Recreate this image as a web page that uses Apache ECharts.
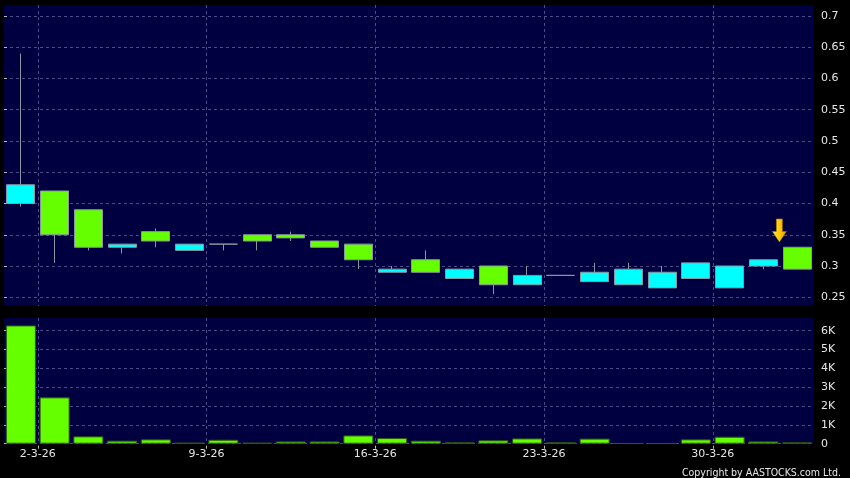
<!DOCTYPE html>
<html>
<head>
<meta charset="utf-8">
<script src="https://cdn.jsdelivr.net/npm/echarts@6/dist/echarts.min.js"></script>
<style>
html,body{margin:0;padding:0;background:#000;}
#c{width:850px;height:478px;}
</style>
</head>
<body>
<div id="c"></div>
<script>
const dates = ['27-2-26','2-3-26','3-3-26','4-3-26','5-3-26','6-3-26','9-3-26','10-3-26','11-3-26','12-3-26','13-3-26','16-3-26','17-3-26','18-3-26','19-3-26','20-3-26','23-3-26','24-3-26','25-3-26','26-3-26','27-3-26','30-3-26','31-3-26','1-4-26'];
const openV  = [0.40,0.42,0.39,0.33,0.355,0.325,0.335,0.35,0.35,0.34,0.335,0.29,0.31,0.28,0.30,0.27,0.285,0.275,0.27,0.265,0.28,0.265,0.30,0.33];
const closeV = [0.43,0.35,0.33,0.335,0.34,0.335,0.335,0.34,0.345,0.33,0.31,0.295,0.29,0.295,0.27,0.285,0.285,0.29,0.295,0.29,0.305,0.30,0.31,0.295];
const lowV   = [0.395,0.305,0.325,0.32,0.33,0.325,0.325,0.325,0.34,0.33,0.295,0.29,0.29,0.28,0.255,0.27,0.285,0.275,0.27,0.265,0.28,0.265,0.295,0.295];
const highV  = [0.64,0.42,0.39,0.335,0.36,0.335,0.335,0.35,0.355,0.34,0.335,0.30,0.325,0.295,0.30,0.30,0.285,0.305,0.305,0.30,0.305,0.30,0.31,0.33];
const volume = [6280,2460,390,160,230,50,210,50,120,120,440,300,160,70,180,280,70,270,20,20,230,370,120,70];
const priceTicks = [0.25,0.3,0.35,0.4,0.45,0.5,0.55,0.6,0.65,0.7];
const volTicks = [0,1000,2000,3000,4000,5000,6000];
const dateTickIdx = [1,6,11,16,21];
const arrowAt = {date:'31-3-26', value:0.3385};

const N = dates.length;
const FONT = 'DejaVu Sans';
const gridLine = {show:true, lineStyle:{color:'#4a4a88', width:1, type:[3,3]}};
const kData = dates.map((d,i)=>[openV[i], closeV[i], lowV[i], highV[i]]);

const chart = echarts.init(document.getElementById('c'), null, {renderer:'canvas'});
chart.setOption({
  backgroundColor:'#000000',
  animation:false,
  title:{text:'Copyright by AASTOCKS.com Ltd.', right:4, top:463,
    textStyle:{color:'#e6e6e6', fontSize:10.5, fontWeight:'normal', fontFamily:'"DejaVu Sans Condensed", "Liberation Sans Narrow", "Liberation Sans", sans-serif'}},
  grid:[
    {left:4, right:36, top:5, height:301, show:true, backgroundColor:'#000040', borderWidth:0},
    {left:4, right:36, top:318, height:125.7, show:true, backgroundColor:'#000040', borderWidth:0}
  ],
  xAxis:[
    {type:'category', gridIndex:0, data:dates, boundaryGap:true,
      axisLine:{show:false}, axisTick:{show:false}, axisLabel:{show:false}, splitLine:{show:false}},
    {type:'category', gridIndex:1, data:dates, boundaryGap:true,
      axisLine:{show:false}, axisTick:{show:false}, axisLabel:{show:false}, splitLine:{show:false}},
    {type:'value', gridIndex:0, min:0, max:N,
      axisLine:{show:false}, axisTick:{show:false, customValues:dateTickIdx},
      axisLabel:{show:false, customValues:dateTickIdx}, splitLine:gridLine},
    {type:'value', gridIndex:1, min:0, max:N, position:'bottom', offset:2,
      axisLine:{show:false},
      axisTick:{show:true, length:3, customValues:dateTickIdx, lineStyle:{color:'#bbbbbb'}},
      axisLabel:{show:true, customValues:dateTickIdx, formatter:v=>dates[v], color:'#e6e6e6', fontSize:11, fontFamily:FONT, margin:3},
      splitLine:gridLine}
  ],
  yAxis:[
    {type:'value', gridIndex:0, position:'right', offset:4, min:0.236, max:0.7176, scale:true,
      axisLine:{show:false},
      axisTick:{show:true, length:3, customValues:priceTicks, lineStyle:{color:'#bbbbbb'}},
      axisLabel:{customValues:priceTicks, color:'#e6e6e6', fontSize:11, fontFamily:FONT, margin:3},
      splitLine:gridLine},
    {type:'value', gridIndex:1, position:'right', offset:4, min:0, max:6674,
      axisLine:{show:false},
      axisTick:{show:true, length:3, customValues:volTicks, lineStyle:{color:'#bbbbbb'}},
      axisLabel:{customValues:volTicks, formatter:v=>v===0?'0':(v/1000)+'K', color:'#e6e6e6', fontSize:11, fontFamily:FONT, margin:3},
      splitLine:gridLine}
  ],
  series:[
    {type:'candlestick', xAxisIndex:0, yAxisIndex:0, data:kData, barWidth:'84%',
      itemStyle:{color:'#00ffff', color0:'#66ff00', borderColor:'#8898a0', borderColor0:'#8898a0', borderWidth:1},
      markPoint:{
        symbol:'path://M4,0 L10,0 L10,12 L14,12 L7,22 L0,12 L4,12 Z',
        symbolSize:[14,23], symbolKeepAspect:false,
        label:{show:false},
        itemStyle:{color:{type:'linear',x:0,y:0,x2:1,y2:0,colorStops:[{offset:0,color:'#ffe566'},{offset:0.5,color:'#ffcc00'},{offset:1,color:'#e0a000'}]}, borderColor:'#b07800', borderWidth:0.5},
        data:[{coord:[arrowAt.date, arrowAt.value], symbolOffset:[16,-11.5]}]
      }
    },
    {type:'bar', xAxisIndex:1, yAxisIndex:1, data:volume, barWidth:'89%',
      itemStyle:{color:'#66ff00', borderColor:'#2d5a10', borderWidth:1}}
  ]
});
</script>
</body>
</html>
